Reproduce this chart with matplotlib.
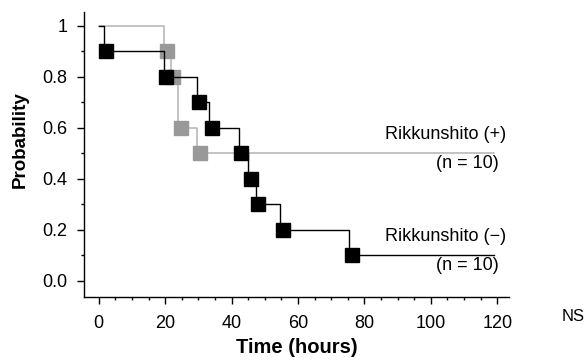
import numpy as np
import matplotlib
matplotlib.use("Agg")
import matplotlib.pyplot as plt
from matplotlib.transforms import offset_copy
from matplotlib.ticker import MultipleLocator, FixedLocator, FuncFormatter

plt.rcParams["font.family"] = ["Liberation Sans", "DejaVu Sans"]

# Kaplan-Meier style step data
plus_t = [0, 19.7, 21.7, 23.9, 29.7]
plus_p = [1.0, 0.9, 0.8, 0.6, 0.5]
plus_end = 119

minus_t = [0, 1.5, 19.6, 29.5, 33.2, 42.2, 45.0, 47.3, 54.6, 75.4]
minus_p = [1.0, 0.9, 0.8, 0.7, 0.6, 0.5, 0.4, 0.3, 0.2, 0.1]
minus_end = 119

yticks = [0.0, 0.2, 0.4, 0.6, 0.8, 1.0]
ytick_labels = ["0.0", "0.2", "0.4", "0.6", "0.8", "1"]
xticks = [0, 20, 40, 60, 80, 100, 120]

GRAY_LINE, GRAY_MARK = "#b3b3b3", "#999999"

fig = plt.figure(figsize=(5.86, 3.62), dpi=100)
ax = fig.add_axes([0.143, 0.180, 0.726, 0.787])

mk_tr = offset_copy(ax.transData, fig=fig, x=2.5, y=0, units="dots")

# Rikkunshito (+)
ax.step(plus_t + [plus_end], plus_p + [plus_p[-1]], where="post", color=GRAY_LINE, lw=1.1)
ax.plot(plus_t[1:], plus_p[1:], ls="none", marker="s", ms=9.5, color=GRAY_MARK, mec=GRAY_MARK,
        transform=mk_tr)

# Rikkunshito (-)
ax.step(minus_t + [minus_end], minus_p + [minus_p[-1]], where="post", color="black", lw=1.0)
ax.plot(minus_t[1:], minus_p[1:], ls="none", marker="s", ms=9.5, color="black", transform=mk_tr)

ax.set_xlim(-4.5, 123.6)
ax.set_ylim(-0.063, 1.055)
for s in ("top", "right"):
    ax.spines[s].set_visible(False)
ax.spines["left"].set_linewidth(1.0)
ax.spines["bottom"].set_linewidth(1.0)

ax.xaxis.set_major_locator(FixedLocator(xticks))
ax.xaxis.set_minor_locator(MultipleLocator(5))
ax.yaxis.set_major_locator(FixedLocator(yticks))
ax.yaxis.set_minor_locator(FixedLocator([0.1, 0.3, 0.5, 0.7, 0.9]))
ax.yaxis.set_major_formatter(FuncFormatter(lambda v, i: ytick_labels[yticks.index(round(v, 1))]))
ax.tick_params(axis="both", which="major", length=5, width=1, labelsize=13)
ax.tick_params(axis="both", which="minor", length=2.5, width=1)
ax.tick_params(axis="y", pad=7)
ax.tick_params(axis="x", pad=8)

ax.set_xlabel("Time (hours)", fontsize=14.5, fontweight="bold")
ax.set_ylabel("Probability", fontsize=13.5, fontweight="bold")
ax.xaxis.set_label_coords(0.5, -0.145)
ax.yaxis.set_label_coords(-0.13, 0.551)

ax.text(122.7, 0.573, "Rikkunshito (+)", ha="right", va="center", fontsize=13)
ax.text(120.3, 0.459, "(n = 10)", ha="right", va="center", fontsize=13)
ax.text(122.7, 0.173, "Rikkunshito (\u2212)", ha="right", va="center", fontsize=13)
ax.text(120.3, 0.059, "(n = 10)", ha="right", va="center", fontsize=13)
ax.text(0.997, 0.125, "NS", transform=fig.transFigure, ha="right", va="center", fontsize=12)

fig.savefig("out.png", dpi=100)
